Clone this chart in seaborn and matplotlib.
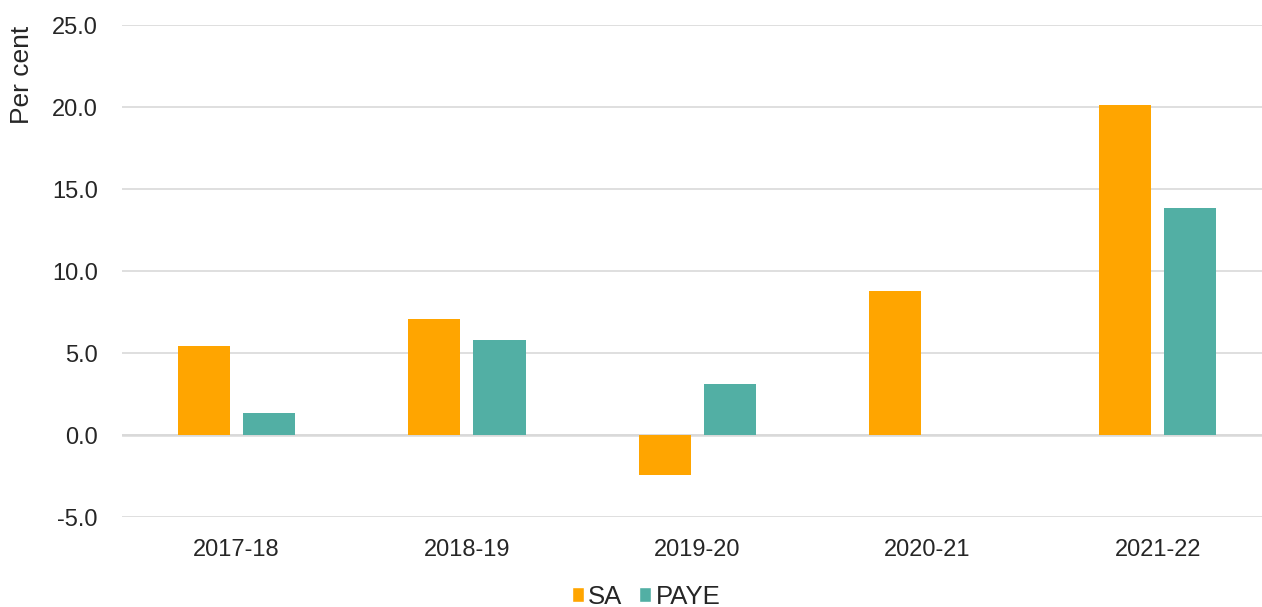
import pandas as pd
import matplotlib
matplotlib.use("Agg")
import matplotlib.pyplot as plt
import seaborn as sns
from matplotlib.patches import Patch

# Valores
anos = ["2017-18", "2018-19", "2019-20", "2020-21", "2021-22"]
sa = [5.43, 7.07, -2.44, 8.78, 20.12]
paye = [1.34, 5.79, 3.11, 0.0, 13.84]
series = ["SA", "PAYE"]
cores = {"SA": "#FFA500", "PAYE": "#52AFA4"}

df = pd.DataFrame({
    "ano": anos * 2,
    "valor": sa + paye,
    "serie": ["SA"] * len(anos) + ["PAYE"] * len(anos),
})

sns.set_style("white")
plt.rcParams["font.family"] = ["Liberation Sans", "DejaVu Sans"]

fig = plt.figure(figsize=(12.62, 6.07), dpi=100)
ax = fig.add_axes([121.5 / 1262, 90 / 607, (1262 - 121.5) / 1262, 492 / 607])

sns.barplot(data=df, x="ano", y="valor", hue="serie", order=anos,
            hue_order=series, palette=cores, width=0.565, gap=0.2,
            saturation=1, linewidth=0, legend=False, ax=ax, zorder=3)

ax.set_xlim(-0.5, 4.5 - 11 / 230)
ax.set_ylim(-5, 25)
ax.set_yticks([-5, 0, 5, 10, 15, 20, 25])
ax.set_yticklabels([f"{v:.1f}" for v in ax.get_yticks()])
ax.grid(axis="y", color="#D9D9D9", linewidth=1.2, zorder=0)
ax.axhline(0, color="#D9D9D9", linewidth=1.8, zorder=1)
for s in ax.spines.values():
    s.set_visible(False)
ax.tick_params(axis="both", length=0, labelsize=17, colors="#262626")
ax.tick_params(axis="x", pad=16)
ax.tick_params(axis="y", pad=17)
ax.set_xlabel("")
ax.set_ylabel("Per cent", fontsize=19, color="#262626")
ax.yaxis.set_label_coords(-0.087, 0.998)
ax.yaxis.label.set_va("center")
ax.yaxis.label.set_ha("right")

handles = [Patch(facecolor=cores[s], label=s) for s in series]
fig.legend(handles=handles, loc="center", bbox_to_anchor=(0.512, 0.017),
           ncol=2, frameon=False, fontsize=18.5, handlelength=0.47,
           handleheight=0.47, handletextpad=0.16, columnspacing=0.66,
           labelcolor="#262626")

fig.savefig("out.png", dpi=100)
